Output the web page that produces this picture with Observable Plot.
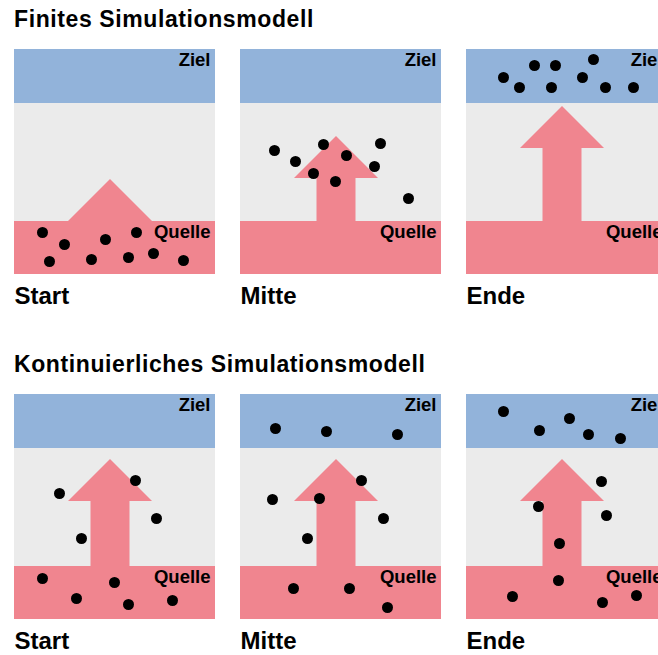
<!DOCTYPE html>
<html><head><meta charset="utf-8">
<script src="https://cdn.jsdelivr.net/npm/d3@7"></script>
<script src="https://cdn.jsdelivr.net/npm/@observablehq/plot@0.6"></script>
<style>
html,body{margin:0;padding:0;background:#fff;overflow:hidden;width:658px;height:655px}
body{font-family:"Liberation Sans",Arial,Helvetica,sans-serif}
.title{box-sizing:border-box;padding-left:14px;font-size:23px;line-height:23px;font-weight:bold;letter-spacing:0.6px;color:#000;white-space:nowrap}
#t1{height:49px;padding-top:8px}
#t2{height:80px;padding-top:39px}
svg{display:block;max-width:none !important}
</style></head>
<body>
<div id="root"></div>
<script>
// ---------- data ----------
const models = ["Finites Simulationsmodell", "Kontinuierliches Simulationsmodell"];
const stages = ["Start", "Mitte", "Ende"];
const zoneNames = ["Ziel", "Transport", "Quelle"];
const zoneTop = [0, 54, 172];
const zoneBottom = [54, 172, 225];
// arrow tip level (panel units, measured from top) per model and stage
const arrowTipFinite = [130, 87, 57];
const arrowTipContinuous = [65, 65, 65];
// particle positions [x, y] per stage (panel units, y measured from top)
const finiteStart = [[28,183],[50,195],[35,212],[91,190],[122,183],[77,210],[114,208],[139,204],[169,211]];
const finiteMitte = [[34,101],[55,112],[73,124],[83,95],[106,106],[95,132],[140,94],[134,117],[168,149]];
const finiteEnde = [[37,28],[53,38],[68,16],[89,16],[85,38],[116,28],[127,10],[139,38],[167,38]];
const contStart = [[45,99],[121,86],[142,124],[67,144],[28,184],[62,204],[100,188],[114,210],[158,206]];
const contMitte = [[35,34],[86,37],[157,40],[32,105],[79,104],[121,86],[143,124],[67,144],[53,194],[109,194],[147,213]];
const contEnde = [[37,17],[73,36],[103,24],[122,40],[154,44],[135,87],[72,112],[140,121],[93,149],[92,186],[46,202],[136,208],[170,201]];

// ---------- shape constants ----------
const panelW = 201;
const arrowX = 96, headHalf = 42, shaftHalf = 19.5, headH = 42;
const colors = {Ziel: "#92b3da", Transport: "#ebebeb", Quelle: "#f0858f"};
const pink = colors.Quelle;

function row(tips, dotsets) {
  const zones = stages.flatMap(s => zoneNames.map((z, i) => ({stage: s, zone: z, top: zoneTop[i], bottom: zoneBottom[i]})));
  const arrows = stages.map((s, i) => ({stage: s, tip: tips[i], base: tips[i] + headH}));
  const head = arrows.flatMap(a => [
    {stage: a.stage, x: arrowX - headHalf, y1: a.base, y2: a.base},
    {stage: a.stage, x: arrowX, y1: a.base, y2: a.tip},
    {stage: a.stage, x: arrowX + headHalf, y1: a.base, y2: a.base}
  ]);
  const dots = stages.flatMap((s, i) => dotsets[i].map(([x, y]) => ({stage: s, x, y})));
  return Plot.plot({
    width: 658, height: 265,
    marginLeft: 14, marginRight: -10, marginTop: 0, marginBottom: 40,
    facet: {marginLeft: 14, marginRight: -10, marginTop: 0, marginBottom: 40},
    style: {fontFamily: '"Liberation Sans", Arial, Helvetica, sans-serif', overflow: "hidden", background: "white"},
    fx: {domain: stages, axis: null, paddingInner: 25.5 / 226.5, paddingOuter: 0, align: 0},
    x: {domain: [0, panelW], axis: null},
    y: {domain: [0, 225], reverse: true, axis: null},
    color: {domain: zoneNames, range: zoneNames.map(z => colors[z])},
    marks: [
      Plot.rect(zones, {fx: "stage", x1: 0, x2: panelW, y1: "top", y2: "bottom", fill: "zone", inset: 0}),
      Plot.rect(arrows.filter(a => a.base < zoneTop[2]), {fx: "stage", x1: arrowX - shaftHalf, x2: arrowX + shaftHalf, y1: "base", y2: zoneTop[2] + 0.5, fill: pink, inset: 0}),
      Plot.areaY(head, {fx: "stage", x: "x", y1: "y1", y2: "y2", z: "stage", fill: pink, curve: "linear"}),
      Plot.dot(dots, {fx: "stage", x: "x", y: "y", r: 5.5, fill: "black", stroke: null}),
      Plot.text(stages, {fx: d => d, x: panelW - 5, y: zoneTop[0] + 16.5, text: () => "Ziel", textAnchor: "end", lineAnchor: "bottom", fontSize: 18.5, fontWeight: "bold", fill: "black", style: "letter-spacing:0.4px"}),
      Plot.text(stages, {fx: d => d, x: panelW - 5, y: zoneTop[2] + 16.5, text: () => "Quelle", textAnchor: "end", lineAnchor: "bottom", fontSize: 18.5, fontWeight: "bold", fill: "black"}),
      Plot.text(stages, {fx: d => d, x: 0, y: 254, text: d => d, textAnchor: "start", lineAnchor: "bottom", fontSize: 24, fontWeight: "bold", fill: "black"})
    ]
  });
}

const root = document.getElementById("root");
const t1 = document.createElement("div"); t1.className = "title"; t1.id = "t1"; t1.textContent = models[0];
root.appendChild(t1);
root.appendChild(row(arrowTipFinite, [finiteStart, finiteMitte, finiteEnde]));
const t2 = document.createElement("div"); t2.className = "title"; t2.id = "t2"; t2.textContent = models[1];
root.appendChild(t2);
root.appendChild(row(arrowTipContinuous, [contStart, contMitte, contEnde]));
</script>
</body></html>
